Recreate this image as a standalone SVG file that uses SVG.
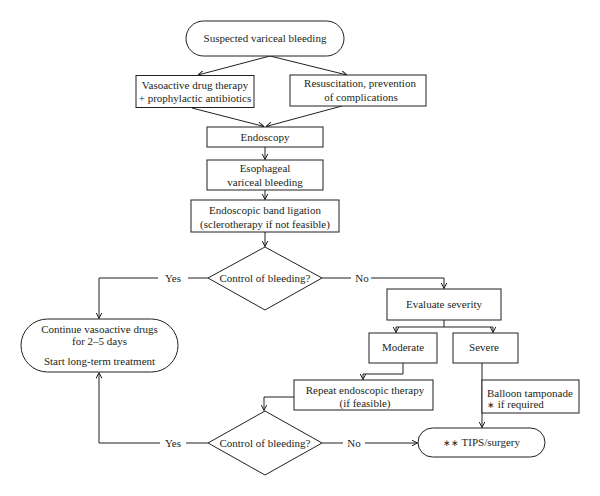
<svg xmlns="http://www.w3.org/2000/svg" width="600" height="496" viewBox="0 0 600 496">
<defs>
<style>
.n{fill:#fff;stroke:#231f20;stroke-width:1}
.c{fill:none;stroke:#231f20;stroke-width:1}
text{font-family:"Liberation Serif","Times New Roman",serif;font-size:11px;fill:#231f20;text-anchor:middle}
.l{text-anchor:start}
.s{font-size:9px}
</style>
<marker id="a" viewBox="0 0 6 6" refX="6" refY="3" markerWidth="6" markerHeight="6" markerUnits="userSpaceOnUse" orient="auto">
<path d="M0,0 L6,3 L0,6" fill="none" stroke="#231f20" stroke-width="1"/>
</marker>
</defs>
<rect width="600" height="496" fill="#fff"/>
<g id="connectors">
<path class="c" d="M270,56 L198,75" marker-end="url(#a)"/>
<path class="c" d="M270,56 L347,75" marker-end="url(#a)"/>
<path class="c" d="M192,108 L264,126.5" marker-end="url(#a)"/>
<path class="c" d="M342,106 L266,126.5" marker-end="url(#a)"/>
<path class="c" d="M265,147 V159.5" marker-end="url(#a)"/>
<path class="c" d="M265,190 V199.5" marker-end="url(#a)"/>
<path class="c" d="M265,232 V246.5" marker-end="url(#a)"/>
<path class="c" d="M208,278 H188"/>
<path class="c" d="M158,278 H99 V318.5" marker-end="url(#a)"/>
<path class="c" d="M322,278 H351"/>
<path class="c" d="M371,278 H444 V288.5" marker-end="url(#a)"/>
<path class="c" d="M444,320 V327 M396,327 H493"/>
<path class="c" d="M396,327 V332.5" marker-end="url(#a)"/>
<path class="c" d="M493,327 V332.5" marker-end="url(#a)"/>
<path class="c" d="M403,363 V374 H363 V379.5" marker-end="url(#a)"/>
<path class="c" d="M482,363 V427.5" marker-end="url(#a)"/>
<path class="c" d="M294,397 H264 V410.5" marker-end="url(#a)"/>
<path class="c" d="M208,443 H186"/>
<path class="c" d="M160,443 H99 V372.5" marker-end="url(#a)"/>
<path class="c" d="M322,443 H343"/>
<path class="c" d="M365,443 H417.5" marker-end="url(#a)"/>
<text x="173" y="281.8">Yes</text>
<text x="362" y="281.8">No</text>
<text x="173" y="446.8">Yes</text>
<text x="354" y="446.8">No</text>
</g>
<g id="start">
<rect class="n" x="186" y="21" width="158" height="35" rx="17.5"/>
<text x="265" y="41.5">Suspected variceal bleeding</text>
</g>
<g id="vasoactive">
<rect class="n" x="136" y="75.5" width="118" height="32"/>
<text x="195" y="88.7">Vasoactive drug therapy</text>
<text x="195" y="102">+ prophylactic antibiotics</text>
</g>
<g id="resuscitation">
<rect class="n" x="290" y="75" width="136" height="31"/>
<text x="360" y="87">Resuscitation, prevention</text>
<text x="361" y="100.5">of complications</text>
</g>
<g id="endoscopy">
<rect class="n" x="207" y="127" width="116" height="20"/>
<text x="265" y="140.8">Endoscopy</text>
</g>
<g id="esophageal">
<rect class="n" x="207" y="160" width="116" height="30"/>
<text x="265" y="172">Esophageal</text>
<text x="265" y="185.5">variceal bleeding</text>
</g>
<g id="band">
<rect class="n" x="191" y="200" width="148" height="32"/>
<text x="265" y="213.8">Endoscopic band ligation</text>
<text x="265" y="227.8">(sclerotherapy if not feasible)</text>
</g>
<g id="control1">
<polygon class="n" points="265,247 322,278 265,310 208,278"/>
<text x="265" y="281.8">Control of bleeding?</text>
</g>
<g id="continue">
<rect class="n" x="21" y="319" width="157" height="53" rx="26.5"/>
<text x="99.5" y="332.8">Continue vasoactive drugs</text>
<text x="99.5" y="344.8">for 2–5 days</text>
<text x="99.5" y="364.8">Start long-term treatment</text>
</g>
<g id="evaluate">
<rect class="n" x="387" y="289" width="114" height="31"/>
<text x="444" y="308">Evaluate severity</text>
</g>
<g id="moderate">
<rect class="n" x="369" y="333" width="68" height="30"/>
<text x="403" y="351">Moderate</text>
</g>
<g id="severe">
<rect class="n" x="453" y="333" width="65" height="30"/>
<text x="484" y="351">Severe</text>
</g>
<g id="repeat">
<rect class="n" x="294" y="380" width="139" height="30"/>
<text x="365" y="393.8">Repeat endoscopic therapy</text>
<text x="365" y="406.5">(if feasible)</text>
</g>
<g id="balloon">
<rect class="n" x="482" y="380" width="97" height="33"/>
<text class="l" x="487" y="397">Balloon tamponade</text>
<text class="l" x="487" y="408"><tspan class="s">∗</tspan> if required</text>
</g>
<g id="control2">
<polygon class="n" points="265,411 322,443 265,475 208,443"/>
<text x="265" y="446.8">Control of bleeding?</text>
</g>
<g id="tips">
<rect class="n" x="418" y="428" width="127" height="29" rx="14.5"/>
<text x="481.5" y="445.5"><tspan class="s">∗∗</tspan> TIPS/surgery</text>
</g>
</svg>
